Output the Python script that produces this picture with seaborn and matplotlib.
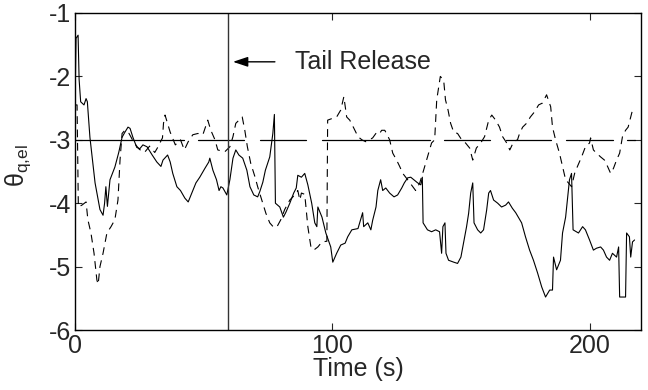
import numpy as np
import pandas as pd
import matplotlib
matplotlib.use("Agg")
import matplotlib.pyplot as plt
import seaborn as sns

# ---------------- data ----------------
solid_t = [0, 0.4, 1.2, 1.6, 2.2, 3.5, 4.3, 4.8, 5.8, 7, 7.8, 9.7, 10.9, 11.5, 12, 12.6, 13.6, 15.5, 17, 18.3,
           19.4, 20.6, 21.4, 22.5, 24, 25.2, 26.4, 28, 30, 31.8, 33.4, 34.2, 36, 37, 38, 39.6, 41, 42.7, 44, 45.4,
           47, 48.5, 50.5, 52, 52.4, 53.6, 55, 56, 56.7, 57.5, 59, 60.2, 61.4, 62.5, 63.7, 65.2, 66.8, 68, 69.5, 71,
           71.8, 73, 74, 75.7, 76.9, 77.5, 77.9, 79.6, 81, 82, 83.5, 85, 86, 86.6, 88, 89.3, 90.5, 92, 93.2, 94,
           94.4, 96, 97.5, 99.4, 100.2, 101.7, 103.3, 105, 106, 107.6, 110, 111.8, 112.2, 113.8, 115, 115.7, 117, 117.7, 118.8, 119.6,
           120.8, 122.3, 124, 125.4, 127, 128, 129.3, 130.5, 131.7, 133.2, 134.4, 135, 135.3, 137, 138.6, 140.2, 141.7, 142.5, 143, 143.8,
           144.2, 145.2, 147.2, 148.7, 150, 151, 152.2, 153, 153.8, 154.6, 155.1, 156.5, 157.7, 158.8, 160, 160.8, 161.5, 162.7, 164.3, 165.8,
           167.4, 168.5, 170, 171.3, 173.6, 175.1, 176.7, 178.2, 179.8, 181.4, 182.9, 184.5, 185.6, 186, 187.2, 188.7, 189.5, 190.7, 192.2, 193,
           193.6, 195.7, 197.3, 198.4, 200, 201.5, 202.7, 204.3, 205.4, 206.6, 207.8, 208.9, 210.5, 211.3, 211.7, 214, 214.4, 215.5, 216, 216.7,
           217.5]
solid_v = [-2.5, -1.4, -1.35, -2.05, -2.4, -2.45, -2.35, -2.4, -2.96, -3.4, -3.68, -4.1, -4.19, -4.0, -3.74, -4.05, -3.63, -3.43, -3.2, -2.96,
           -2.88, -2.8, -2.82, -2.96, -3.12, -3.14, -3.08, -3.11, -3.24, -3.35, -3.42, -3.32, -3.24, -3.35, -3.53, -3.74, -3.8, -3.92, -3.98, -3.84,
           -3.68, -3.59, -3.45, -3.35, -3.29, -3.48, -3.63, -3.8, -3.74, -3.76, -3.87, -3.63, -3.29, -3.16, -3.24, -3.29, -3.48, -3.74, -3.87, -3.9,
           -3.82, -3.67, -3.48, -3.27, -2.9, -2.6, -4.0, -4.06, -4.22, -4.14, -4.0, -3.84, -3.76, -3.56, -3.59, -3.53, -3.71, -4.0, -4.31, -4.37,
           -4.06, -4.22, -4.47, -4.69, -4.93, -4.79, -4.66, -4.63, -4.53, -4.42, -4.4, -4.15, -4.37, -4.31, -4.42, -4.27, -4.06, -3.8, -3.63, -3.8,
           -3.76, -3.84, -3.9, -3.87, -3.76, -3.68, -3.6, -3.59, -3.63, -3.68, -3.71, -3.59, -4.31, -4.42, -4.45, -4.42, -4.45, -4.79, -4.37, -4.31,
           -4.79, -4.9, -4.93, -4.95, -4.85, -4.63, -4.37, -4.16, -3.84, -3.68, -4.31, -4.42, -4.47, -4.42, -4.11, -3.84, -3.8, -3.95, -4.0, -4.06,
           -4.03, -3.98, -4.08, -4.15, -4.31, -4.53, -4.74, -4.9, -5.1, -5.32, -5.48, -5.37, -5.37, -4.85, -5.05, -4.9, -4.47, -4.22, -3.63, -3.53,
           -4.42, -4.47, -4.37, -4.42, -4.58, -4.74, -4.71, -4.69, -4.74, -4.85, -4.9, -4.79, -4.85, -4.69, -5.48, -5.48, -4.47, -4.53, -4.85, -4.61,
           -4.58]

dashed_t = [0, 0.8, 1.3, 2.7, 4.3, 5, 6.2, 7.4, 8.5, 9, 9.7, 10.9, 12.4, 14, 15.5, 16.7, 17.5, 18.3, 19.4, 21,
            23, 25, 27, 29, 31, 32, 34, 34.4, 35, 37, 39, 41, 42.5, 44, 45.8, 47.8, 49.7, 51.6, 52.8, 54.4,
            55.5, 58.2, 60.2, 61.4, 62.5, 65, 66, 67, 68.3, 70, 71, 72.6, 74.2, 75.7, 77, 78.4, 80, 81.5, 83.5, 85.4,
            86.6, 87.4, 88, 89.3, 90.5, 91.7, 92.8, 94.4, 96, 97.9, 98.2, 100.2, 101.7, 103.3, 104.5, 105.6, 106.8, 108.3, 110, 111.5,
            113, 114.5, 115.7, 117.3, 118.4, 119.2, 120.4, 122.3, 123.5, 125, 126.2, 127.4, 129.3, 131.3, 132.4, 134, 135.5, 137, 138.6, 139.8,
            140.6, 142, 143.3, 144, 145, 146, 147.2, 148.7, 150.3, 151.8, 153.4, 154.6, 156, 157.7, 159.2, 160.8, 162, 163.5, 165, 166.2,
            167.8, 169, 170.5, 172, 172.8, 174, 175.5, 177, 178.6, 180.2, 181.7, 183.3, 184.9, 185.6, 186.8, 188.3, 189.5, 190.7, 191.8, 193,
            194.2, 195.3, 196.9, 198.4, 200, 200.4, 201.5, 202.7, 204.3, 205.8, 207, 208.2, 209.3, 210.5, 211.7, 212.8, 214, 215, 216, 216.7]
dashed_v = [-2.45, -2.45, -4.06, -4.03, -3.98, -4.26, -4.47, -4.79, -5.21, -5.28, -5.0, -4.79, -4.47, -4.37, -4.26, -3.95, -3.32, -2.9, -2.85, -2.9,
            -3.05, -3.15, -3.2, -3.1, -3.2, -3.13, -2.97, -2.74, -2.61, -2.88, -3.08, -3.0, -3.16, -3.03, -2.92, -2.9, -2.92, -2.69, -2.85, -3.0,
            -3.16, -3.19, -3.11, -2.95, -2.74, -2.64, -2.85, -3.11, -3.37, -3.59, -3.74, -3.95, -4.16, -4.31, -4.37, -4.38, -4.26, -4.1, -3.95, -3.87,
            -3.8, -3.95, -3.84, -3.86, -4.37, -4.69, -4.74, -4.69, -4.61, -4.6, -2.69, -2.66, -2.64, -2.53, -2.32, -2.64, -2.69, -2.81, -2.95, -3.0,
            -3.03, -3.0, -2.97, -2.88, -2.9, -2.85, -2.85, -3.0, -3.21, -3.32, -3.42, -3.53, -3.63, -3.74, -3.8, -3.68, -3.48, -3.27, -3.05, -3.0,
            -2.37, -2.0, -2.06, -2.37, -2.53, -2.74, -2.88, -2.9, -3.0, -3.05, -3.13, -3.32, -3.13, -3.05, -2.95, -2.69, -2.61, -2.69, -2.8, -2.95,
            -3.05, -3.16, -3.03, -3.0, -2.9, -2.8, -2.74, -2.64, -2.56, -2.45, -2.42, -2.29, -2.48, -2.8, -3.0, -3.21, -3.42, -3.63, -3.68, -3.74,
            -3.53, -3.42, -3.27, -3.11, -3.05, -2.97, -3.16, -3.21, -3.27, -3.32, -3.42, -3.53, -3.45, -3.32, -3.21, -2.95, -2.85, -2.8, -2.64, -2.53]

# reference level -3 drawn in segments (start, end) in seconds
ref_level = -3.0
ref_start = [0, 47.8, 71.8, 95.9, 143.3, 167.4, 190.7, 214.4]
ref_end = [42.3, 65.6, 89.7, 137.9, 161.2, 185.2, 209.3, 217.8]

release_t = 59.3
label_text = "Tail Release"
x_ticks = [0, 100, 200]
y_ticks = [-6, -5, -4, -3, -2, -1]

# ---------------- figure ----------------
sns.set_style("ticks")
plt.rcParams["font.family"] = ["Liberation Sans", "DejaVu Sans"]
plt.rcParams["mathtext.default"] = "regular"
plt.rcParams["axes.unicode_minus"] = False

fig = plt.figure(figsize=(6.48, 3.9), dpi=100)
ax = fig.add_axes([75 / 648, 1 - 330 / 390, (641 - 75) / 648, (330 - 13) / 390])

df_solid = pd.DataFrame({"t": solid_t, "v": solid_v})
df_dash = pd.DataFrame({"t": dashed_t, "v": dashed_v})
ref_rows = []
for i, (a, b) in enumerate(zip(ref_start, ref_end)):
    ref_rows.append({"t": a, "v": ref_level, "seg": i})
    ref_rows.append({"t": b, "v": ref_level, "seg": i})
df_ref = pd.DataFrame(ref_rows)

sns.lineplot(data=df_ref, x="t", y="v", units="seg", estimator=None, color="black",
             lw=0.9, ax=ax, legend=False)
sns.lineplot(data=df_dash, x="t", y="v", color="black", lw=0.8, dashes=False,
             linestyle=(0, (7, 5)), ax=ax, sort=False, legend=False)
sns.lineplot(data=df_solid, x="t", y="v", color="black", lw=0.8, ax=ax,
             sort=False, legend=False)

ax.axvline(release_t, color="#333333", lw=1.0)
ax.annotate("", xy=(61.4, -1.77), xytext=(77.7, -1.77),
            arrowprops=dict(arrowstyle="-|>,head_length=0.9,head_width=0.3", color="black", lw=1.0,
                            shrinkA=0, shrinkB=0))
ax.text(85.4, -1.77, label_text, va="center", ha="left", fontsize=18)

ax.set_xlim(0, 220)
ax.set_ylim(-6, -1)
ax.set_xticks(x_ticks)
ax.set_yticks(y_ticks)
ax.set_xlabel("Time (s)", fontsize=18, labelpad=-1)
ax.set_ylabel("θ$_{q{,}el}$", fontsize=18, labelpad=2)
ax.yaxis.set_label_coords(-0.075, 0.52)
ax.tick_params(direction="in", length=5, width=0.8, labelsize=18, top=True, right=True, pad=3)
for s in ax.spines.values():
    s.set_visible(True)
    s.set_linewidth(1.0)
    s.set_color("black")

fig.savefig("out.png", dpi=100)
